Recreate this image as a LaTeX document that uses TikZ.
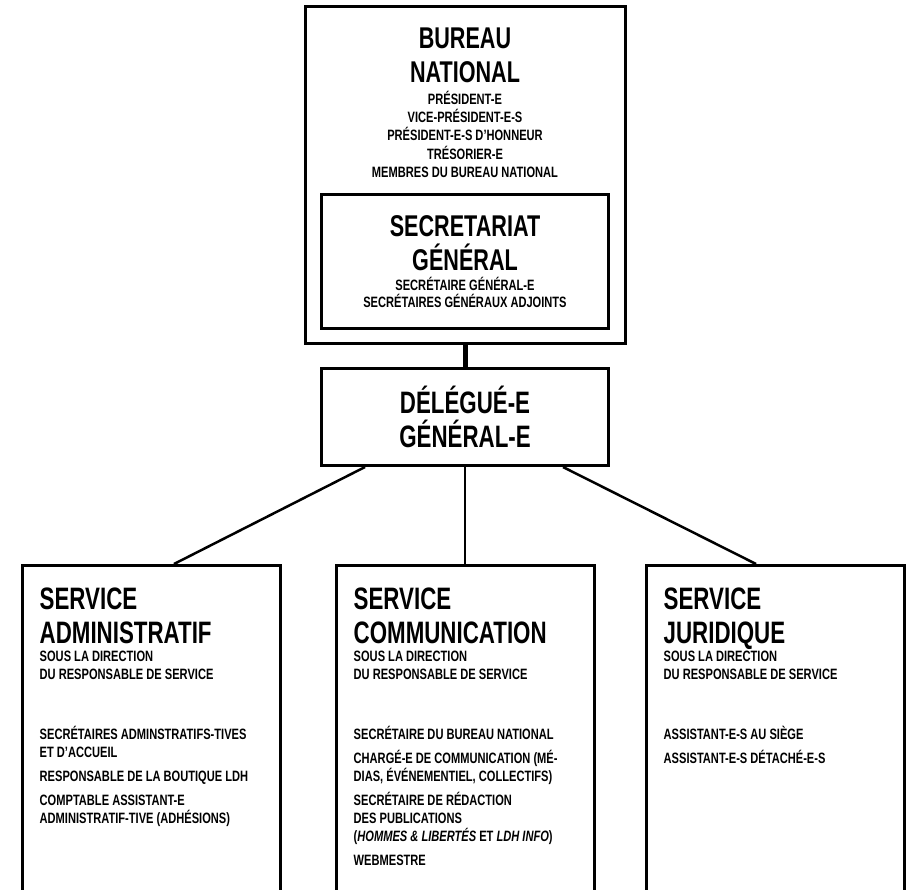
\documentclass[tikz,border=0pt]{standalone}
\usepackage{fontspec}
\setmainfont{Liberation Sans}[FakeStretch=0.74]
\newfontfamily\headfont{Liberation Sans}[FakeStretch=0.72]
\usetikzlibrary{positioning}

\begin{document}
\begin{tikzpicture}[x=1pt, y=-1pt,
  box/.style={draw, line width=3pt, inner sep=0pt},
  head/.style={font=\headfont\bfseries\fontsize{30}{34}\selectfont, align=center, inner sep=0pt},
  servhead/.style={head, font=\headfont\bfseries\fontsize{31}{34}\selectfont, align=left},
  staff/.style={font=\bfseries\fontsize{15}{18.3}\selectfont, align=center, inner sep=0pt},
  link/.style={line width=2.5pt},
  spine/.style={line width=5pt}]
  \clip (0,0) rectangle (913,889);
  % bureau national with the secretariat inside
  \node[box, minimum width=320pt, minimum height=337pt] (bureau) at (465,175) {};
  \node[head, below=23pt of bureau.north] (bureautitle) {BUREAU\\NATIONAL};
  \node[staff, below=7.5pt of bureautitle] (bureaustaff) {PRÉSIDENT-E\\VICE-PRÉSIDENT-E-S\\PRÉSIDENT-E-S D’HONNEUR\\TRÉSORIER-E\\MEMBRES DU BUREAU NATIONAL};
  \node[box, minimum width=287pt, minimum height=134pt, below=15pt of bureaustaff] (secretariat) {};
  \node[head, below=22pt of secretariat.north] (sectitle) {SECRETARIAT\\GÉNÉRAL};
  \node[staff, font=\bfseries\fontsize{15}{17}\selectfont, below=6.5pt of sectitle] (secstaff) {SECRÉTAIRE GÉNÉRAL-E\\SECRÉTAIRES GÉNÉRAUX ADJOINTS};
  % delegue
  \node[box, head, font=\headfont\bfseries\fontsize{31}{34}\selectfont, minimum width=287pt, minimum height=97pt, below=22pt of bureau] (delegue) {DÉLÉGUÉ-E\\GÉNÉRAL-E};
  % services
  \node[box, minimum width=258pt, minimum height=340pt, below=97pt of delegue] (servicecom) {};
  \node[box, minimum width=258pt, minimum height=340pt, left=53pt of servicecom] (serviceadm) {};
  \node[box, minimum width=258pt, minimum height=340pt, right=49pt of servicecom] (servicejur) {};

  \node[servhead, below right=24pt and 19pt of serviceadm.north west] (admtitle) {SERVICE\\ADMINISTRATIF};
  \node[staff, align=left, below right=87pt and 19pt of serviceadm.north west] (admsub) {SOUS LA DIRECTION\\DU RESPONSABLE DE SERVICE};
  \node[staff, align=left, below right=45.5pt and 0pt of admsub.south west] (admstaff) {SECRÉTAIRES ADMINSTRATIFS-TIVES\\ET D’ACCUEIL\\[5.5pt]RESPONSABLE DE LA BOUTIQUE LDH\\[5.5pt]COMPTABLE ASSISTANT-E\\ADMINISTRATIF-TIVE (ADHÉSIONS)};

  \node[servhead, below right=24pt and 19pt of servicecom.north west] (comtitle) {SERVICE\\COMMUNICATION};
  \node[staff, align=left, below right=87pt and 19pt of servicecom.north west] (comsub) {SOUS LA DIRECTION\\DU RESPONSABLE DE SERVICE};
  \node[staff, align=left, below right=45.5pt and 0pt of comsub.south west] (comstaff) {SECRÉTAIRE DU BUREAU NATIONAL\\[5.5pt]CHARGÉ-E DE COMMUNICATION (MÉ-\\DIAS, ÉVÉNEMENTIEL, COLLECTIFS)\\[5.5pt]SECRÉTAIRE DE RÉDACTION\\DES PUBLICATIONS\\(\textit{HOMMES \& LIBERTÉS} ET \textit{LDH INFO})\\[5.5pt]WEBMESTRE};

  \node[servhead, below right=24pt and 19pt of servicejur.north west] (jurtitle) {SERVICE\\JURIDIQUE};
  \node[staff, align=left, below right=87pt and 19pt of servicejur.north west] (jursub) {SOUS LA DIRECTION\\DU RESPONSABLE DE SERVICE};
  \node[staff, align=left, below right=45.5pt and 0pt of jursub.south west] (jurstaff) {ASSISTANT-E-S AU SIÈGE\\[5.5pt]ASSISTANT-E-S DÉTACHÉ-E-S};

  % connectors
  \draw[spine] (bureau) -- (delegue);
  \draw[link] ([xshift=-100pt]delegue.south) -- ([xshift=23pt]serviceadm.north);
  \draw[link] (delegue) -- (servicecom);
  \draw[link] ([xshift=98pt]delegue.south) -- ([xshift=-19pt]servicejur.north);
\end{tikzpicture}
\end{document}
